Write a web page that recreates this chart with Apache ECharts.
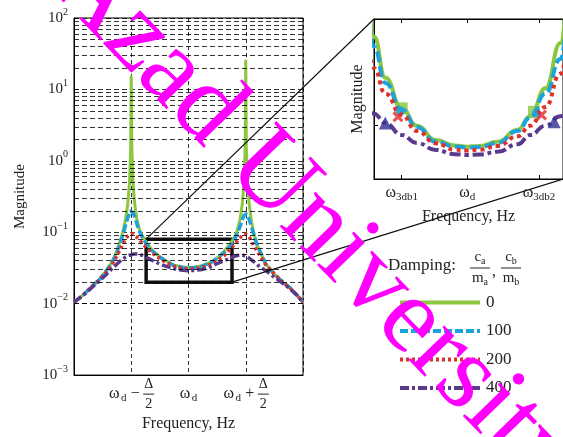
<!DOCTYPE html>
<html>
<head>
<meta charset="utf-8">
<title>Magnitude vs frequency</title>
<script src="https://cdn.jsdelivr.net/npm/echarts@6/dist/echarts.min.js"></script>
<style>
  html, body { margin: 0; padding: 0; background: #fff; }
  #chart { width: 563px; height: 437px; }
</style>
</head>
<body>
<div id="chart"></div>
<script>
// x runs 0..4 with omega_d at 2 and the two resonances at 1 and 3
const freq = [0, 0.15, 0.3, 0.45, 0.55, 0.65, 0.72, 0.76, 0.8, 0.85,
  0.9, 0.94, 0.97, 0.99, 1.0, 1.01, 1.03, 1.06, 1.1, 1.15,
  1.2, 1.26, 1.35, 1.48, 1.6, 1.75, 1.9, 2.0, 2.1, 2.24,
  2.4, 2.5, 2.62, 2.74, 2.8, 2.85, 2.9, 2.94, 2.97, 2.99,
  3.0, 3.01, 3.03, 3.06, 3.1, 3.15, 3.2, 3.35, 3.5, 3.66,
  3.76, 3.9, 4.0];
const mag0 = [0.0105, 0.013, 0.017, 0.022, 0.028, 0.037, 0.048, 0.058, 0.073, 0.1,
  0.15, 0.25, 0.5, 1.5, 15, 1.5, 0.5, 0.25, 0.15, 0.105,
  0.087, 0.0734, 0.058, 0.0465, 0.040, 0.0346, 0.0326, 0.0321, 0.0324, 0.034,
  0.0385, 0.0435, 0.054, 0.071, 0.085, 0.105, 0.15, 0.25, 0.5, 1.5,
  25, 1.5, 0.5, 0.25, 0.14, 0.09, 0.066, 0.036, 0.026, 0.0195,
  0.017, 0.013, 0.0105];
const mag100 = [0.0105, 0.013, 0.017, 0.022, 0.028, 0.036, 0.046, 0.055, 0.068, 0.09,
  0.125, 0.16, 0.185, 0.198, 0.2, 0.198, 0.188, 0.165, 0.13, 0.1,
  0.083, 0.0696, 0.056, 0.046, 0.0395, 0.034, 0.0322, 0.0318, 0.032, 0.0335,
  0.038, 0.043, 0.052, 0.065, 0.078, 0.095, 0.12, 0.15, 0.172, 0.18,
  0.181, 0.18, 0.172, 0.15, 0.12, 0.088, 0.066, 0.036, 0.026, 0.0195,
  0.017, 0.013, 0.0105];
const mag200 = [0.0105, 0.013, 0.017, 0.022, 0.027, 0.034, 0.042, 0.048, 0.056, 0.068,
  0.08, 0.088, 0.093, 0.095, 0.096, 0.096, 0.095, 0.092, 0.085, 0.077,
  0.069, 0.0615, 0.052, 0.044, 0.038, 0.0334, 0.031, 0.0307, 0.031, 0.0324,
  0.036, 0.04, 0.047, 0.0595, 0.067, 0.075, 0.084, 0.09, 0.093, 0.094,
  0.094, 0.094, 0.092, 0.086, 0.075, 0.063, 0.054, 0.035, 0.026, 0.0195,
  0.017, 0.013, 0.0105];
const mag400 = [0.0105, 0.0128, 0.0165, 0.021, 0.025, 0.03, 0.034, 0.0365, 0.039, 0.042,
  0.045, 0.0465, 0.0475, 0.048, 0.0485, 0.049, 0.0495, 0.0495, 0.0495, 0.049,
  0.047, 0.0445, 0.041, 0.0365, 0.0335, 0.0309, 0.0293, 0.029, 0.0292, 0.0302,
  0.033, 0.0365, 0.04, 0.0435, 0.046, 0.0472, 0.048, 0.048, 0.0475, 0.047,
  0.0465, 0.046, 0.045, 0.0435, 0.041, 0.038, 0.035, 0.029, 0.0235, 0.019,
  0.0165, 0.013, 0.0105];
const dampingNames = ['0', '100', '200', '400'];

// main plot ticks: omega_d -/+ Delta/2 and omega_d
const mainTickValues = [1, 2, 3];
const mainTickOps = ['−', '', '+'];
// log grid: decades and the 2..9 multiples inside them
const decades = [0.001, 0.01, 0.1, 1, 10];
const minorMult = [2, 3, 4, 5, 6, 7, 8, 9];

// zoomed window (x from..to, y from..to) shown in the inset
const zoomX = [1.26, 2.76];
const zoomY = [0.02, 0.08];
const insetTickValues = [1.48, 2.0, 2.57];
const insetTickSubs = ['3db1', 'd', '3db2'];
const insetYTicks = [0.04];

// -3 dB points in the inset
const pts3dbSquare = [[1.48, 0.0465], [2.53, 0.0452]];
const pts3dbCircle = [[1.47, 0.0455], [2.55, 0.0448]];
const pts3dbCross = [[1.45, 0.0433], [2.59, 0.044]];
const pts3dbTri = [[1.35, 0.041], [2.69, 0.0415]];

const serif = '"Liberation Serif", "DejaVu Serif", serif';
const colors = ['#8DC63F', '#1BA3DE', '#DE3129', '#5B3A8E'];
const mainDash = ['solid', [8, 3], [3, 3], [9, 3, 3, 3]];
const insetDash = ['solid', [11, 4], [4, 4], [11, 4, 4, 4]];

const chart = echarts.init(document.getElementById('chart'));

const minorGrid = [];
decades.forEach((d) => minorMult.forEach((m) => minorGrid.push({ yAxis: d * m })));

const pairs = (ys) => freq.map((f, i) => [f, ys[i]]);
const curves = [mag0, mag100, mag200, mag400];

const series = [
  {
    // dashed minor grid lines of the log axis
    type: 'line',
    xAxisIndex: 0,
    yAxisIndex: 0,
    data: [[0, 0.01]],
    symbol: 'none',
    lineStyle: { opacity: 0 },
    silent: true,
    z: 1,
    markLine: {
      silent: true,
      symbol: ['none', 'none'],
      label: { show: false },
      lineStyle: { color: '#000', type: [5, 3], width: 0.8 },
      data: minorGrid,
    },
  },
];
curves.forEach((ys, k) => {
  series.push({
    name: dampingNames[k],
    type: 'line',
    xAxisIndex: 0,
    yAxisIndex: 0,
    data: pairs(ys),
    symbol: 'none',
    z: 3,
    lineStyle: { color: colors[k], type: mainDash[k], width: k === 0 ? 3 : 3.5, join: 'round' },
    itemStyle: { color: colors[k] },
  });
});
series.push({
  type: 'line',
  xAxisIndex: 0,
  yAxisIndex: 0,
  data: [[2, 0.03]],
  symbol: 'none',
  lineStyle: { opacity: 0 },
  z: 4,
  markArea: {
    silent: true,
    itemStyle: { color: 'rgba(0,0,0,0)', borderColor: '#111', borderWidth: 3.5 },
    data: [[{ xAxis: zoomX[0], yAxis: zoomY[1] }, { xAxis: zoomX[1], yAxis: zoomY[0] }]],
  },
});
curves.forEach((ys, k) => {
  series.push({
    name: dampingNames[k],
    type: 'line',
    xAxisIndex: 1,
    yAxisIndex: 1,
    data: pairs(ys),
    symbol: 'none',
    smooth: 0.5,
    smoothMonotone: 'x',
    z: 3,
    lineStyle: { color: colors[k], type: insetDash[k], width: 4 },
    itemStyle: { color: colors[k] },
  });
});
series.push(
  { type: 'scatter', xAxisIndex: 1, yAxisIndex: 1, data: pts3dbSquare, symbol: 'rect', symbolSize: 12, itemStyle: { color: colors[0] }, z: 2 },
  { type: 'scatter', xAxisIndex: 1, yAxisIndex: 1, data: pts3dbCircle, symbol: 'circle', symbolSize: 9, itemStyle: { color: colors[1] }, z: 4 },
  {
    type: 'scatter', xAxisIndex: 1, yAxisIndex: 1, data: pts3dbCross,
    symbol: 'path://M2,0 L5,3 L8,0 L10,2 L7,5 L10,8 L8,10 L5,7 L2,10 L0,8 L3,5 L0,2 Z',
    symbolSize: 11, itemStyle: { color: '#E8232A' }, z: 5,
  },
  { type: 'scatter', xAxisIndex: 1, yAxisIndex: 1, data: pts3dbTri, symbol: 'triangle', symbolSize: 13, itemStyle: { color: '#2E3192' }, z: 5 }
);

const subRich = {
  w: { fontFamily: serif, fontSize: 16, color: '#222', lineHeight: 10, width: 12 },
  s: { fontFamily: serif, fontSize: 11, color: '#222', lineHeight: 10, width: 7, padding: [9, 0, 0, 0] },
  op: { fontFamily: serif, fontSize: 16, color: '#222', lineHeight: 10, width: 16, align: 'center' },
  pad: { lineHeight: 10, width: 35 },
  num: { fontFamily: serif, fontSize: 14, color: '#222', lineHeight: 10, width: 11, align: 'center' },
  bar: { lineHeight: 10, width: 11, height: 1, backgroundColor: '#222' },
  e: { lineHeight: 10 },
};

chart.setOption({
  animation: false,
  backgroundColor: '#fff',
  textStyle: { fontFamily: serif },
  grid: [
    { left: 74, top: 18, width: 229, height: 365, show: true, borderColor: '#000', borderWidth: 1 },
    { left: 374, top: 19, width: 189, height: 160, show: true, borderColor: '#000', borderWidth: 1 },
  ],
  legend: {
    data: dampingNames,
    orient: 'vertical',
    left: 398,
    top: 294,
    padding: 0,
    itemWidth: 80,
    itemHeight: 14,
    itemGap: 11.5,
    selectedMode: false,
    itemStyle: { opacity: 0 },
    lineStyle: { width: 4 },
    textStyle: { fontFamily: serif, fontSize: 17, color: '#222', padding: [0, 0, 0, 1] },
  },
  xAxis: [
    {
      gridIndex: 0,
      type: 'value',
      min: 0,
      max: 4,
      interval: 1,
      axisLine: { lineStyle: { color: '#000' } },
      axisTick: { show: false },
      splitLine: { show: true, lineStyle: { color: '#000', type: [4, 3], width: 0.8 } },
      name: 'Frequency, Hz',
      nameLocation: 'middle',
      nameGap: 35,
      nameTextStyle: { fontFamily: serif, fontSize: 16, color: '#222' },
      axisLabel: {
        customValues: mainTickValues,
        margin: 4,
        formatter: (v) => {
          const i = mainTickValues.indexOf(v);
          if (i < 0) return '';
          if (!mainTickOps[i]) return '{e| }\n{w|ω}{s|d}\n{e| }';
          return '{pad| }{num|Δ}\n{w|ω}{s|d}{op|' + mainTickOps[i] + '}{bar| }\n{pad| }{num|2}';
        },
        rich: subRich,
      },
    },
    {
      gridIndex: 1,
      type: 'value',
      min: zoomX[0],
      max: zoomX[1],
      axisLine: { lineStyle: { color: '#000' } },
      axisTick: { inside: true, length: 4, customValues: insetTickValues, lineStyle: { color: '#000' } },
      splitLine: { show: false },
      name: 'Frequency, Hz',
      nameLocation: 'middle',
      nameGap: 30,
      nameTextStyle: { fontFamily: serif, fontSize: 16, color: '#222' },
      axisLabel: {
        customValues: insetTickValues,
        margin: 6,
        formatter: (v) => {
          const i = insetTickValues.indexOf(v);
          return i < 0 ? '' : '{w|ω}{s|' + insetTickSubs[i] + '}';
        },
        rich: {
          w: { fontFamily: serif, fontSize: 16, color: '#222', lineHeight: 16 },
          s: { fontFamily: serif, fontSize: 11, color: '#222', lineHeight: 16, padding: [9, 0, 0, 0] },
        },
      },
    },
    {
      gridIndex: 1,
      type: 'value',
      position: 'top',
      min: zoomX[0],
      max: zoomX[1],
      axisLine: { lineStyle: { color: '#000' } },
      axisTick: { inside: true, length: 4, customValues: insetTickValues, lineStyle: { color: '#000' } },
      axisLabel: { show: false },
      splitLine: { show: false },
    },
  ],
  yAxis: [
    {
      gridIndex: 0,
      type: 'log',
      logBase: 10,
      min: 0.001,
      max: 100,
      axisLine: { show: true, lineStyle: { color: '#000' } },
      axisTick: { inside: true, length: 4, lineStyle: { color: '#000' } },
      splitLine: { show: true, lineStyle: { color: '#000', type: [5, 3], width: 0.8 } },
      name: 'Magnitude',
      nameLocation: 'middle',
      nameGap: 46,
      nameTextStyle: { fontFamily: serif, fontSize: 15, color: '#222' },
      axisLabel: {
        margin: 6,
        formatter: (v) => {
          const e = Math.round(Math.log10(v));
          return '{b|10}{e|' + String(e).replace('-', '−') + '}';
        },
        rich: {
          b: { fontFamily: serif, fontSize: 15, color: '#222', lineHeight: 16 },
          e: { fontFamily: serif, fontSize: 10, color: '#222', lineHeight: 16, padding: [0, 0, 12, 0] },
        },
      },
    },
    {
      gridIndex: 1,
      type: 'value',
      min: zoomY[0],
      max: zoomY[1],
      axisLine: { show: true, lineStyle: { color: '#000' } },
      axisTick: { show: true, inside: true, length: 4, customValues: insetYTicks, lineStyle: { color: '#000' } },
      axisLabel: { show: false },
      splitLine: { show: false },
      name: 'Magnitude',
      nameLocation: 'middle',
      nameGap: 8,
      nameTextStyle: { fontFamily: serif, fontSize: 16, color: '#222' },
    },
  ],
  series: series,
});

// connector lines from the zoom box to the inset, placed through the axes
const boxTL = chart.convertToPixel({ gridIndex: 0 }, [zoomX[0], zoomY[1]]);
const boxBR = chart.convertToPixel({ gridIndex: 0 }, [zoomX[1], zoomY[0]]);
const insTL = chart.convertToPixel({ gridIndex: 1 }, [zoomX[0], zoomY[1]]);
const insBR = chart.convertToPixel({ gridIndex: 1 }, [zoomX[1], zoomY[0]]);

const fracRich = {
  c: { fontFamily: serif, fontSize: 15, fill: '#222', lineHeight: 14 },
  s: { fontFamily: serif, fontSize: 10, fill: '#222', lineHeight: 14, padding: [8, 0, 0, 0] },
};
const fracText = (x, sub) => [
  { type: 'text', x: x, y: 257, style: { text: '{c|c}{s|' + sub + '}', align: 'center', verticalAlign: 'middle', rich: fracRich } },
  { type: 'line', shape: { x1: x - 10, y1: 268, x2: x + 10, y2: 268 }, style: { stroke: '#222', lineWidth: 1 } },
  { type: 'text', x: x, y: 278, style: { text: '{c|m}{s|' + sub + '}', align: 'center', verticalAlign: 'middle', rich: fracRich } },
];

chart.setOption({
  graphic: [
    { type: 'line', shape: { x1: boxTL[0], y1: boxTL[1], x2: insTL[0], y2: insTL[1] }, style: { stroke: '#111', lineWidth: 1.2 }, z: 5 },
    { type: 'line', shape: { x1: boxBR[0], y1: boxBR[1], x2: insBR[0], y2: insBR[1] }, style: { stroke: '#111', lineWidth: 1.2 }, z: 5 },
    { type: 'text', x: 388, y: 266, style: { text: 'Damping:', fontFamily: serif, fontSize: 17, fill: '#222', verticalAlign: 'middle' } },
    ...fracText(480, 'a'),
    { type: 'text', x: 492, y: 272, style: { text: ',', fontFamily: serif, fontSize: 16, fill: '#222', verticalAlign: 'middle' } },
    ...fracText(511, 'b'),
    {
      type: 'text', x: 314, y: 221, rotation: -46 * Math.PI / 180, z: 100,
      style: { text: 'Azad University', fontFamily: serif, fontSize: 108, fill: '#FF00FF', align: 'center', verticalAlign: 'middle' },
    },
  ],
});
</script>
</body>
</html>
